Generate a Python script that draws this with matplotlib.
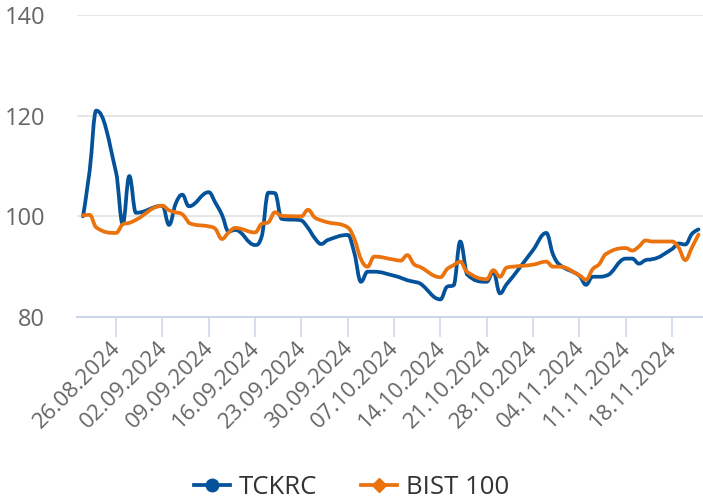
import matplotlib
matplotlib.use("Agg")
import matplotlib.pyplot as plt
from matplotlib.path import Path
from matplotlib.patches import PathPatch
from matplotlib.lines import Line2D
import matplotlib.dates as mdates
from datetime import datetime

plt.rcParams['font.family'] = ['Open Sans', 'DejaVu Sans']

# ---------------- data ----------------
dates = [
    "21.08.2024", "22.08.2024", "23.08.2024",
    "26.08.2024", "27.08.2024", "28.08.2024", "29.08.2024",
    "02.09.2024", "03.09.2024", "04.09.2024", "05.09.2024", "06.09.2024",
    "09.09.2024", "10.09.2024", "11.09.2024", "12.09.2024", "13.09.2024",
    "16.09.2024", "17.09.2024", "18.09.2024", "19.09.2024", "20.09.2024",
    "23.09.2024", "24.09.2024", "25.09.2024", "26.09.2024", "27.09.2024",
    "30.09.2024", "01.10.2024", "02.10.2024", "03.10.2024", "04.10.2024",
    "07.10.2024", "08.10.2024", "09.10.2024", "10.10.2024", "11.10.2024",
    "14.10.2024", "15.10.2024", "16.10.2024", "17.10.2024", "18.10.2024",
    "21.10.2024", "22.10.2024", "23.10.2024", "24.10.2024", "25.10.2024",
    "28.10.2024", "30.10.2024", "31.10.2024", "01.11.2024",
    "04.11.2024", "05.11.2024", "06.11.2024", "07.11.2024", "08.11.2024",
    "11.11.2024", "12.11.2024", "13.11.2024", "14.11.2024", "15.11.2024",
    "18.11.2024", "19.11.2024", "20.11.2024", "21.11.2024", "22.11.2024",
]

tckrc = [
    100.0, 109.0, 121.0,
    108.7, 98.5, 108.0, 100.7,
    102.1, 98.3, 102.5, 104.3, 102.0,
    104.8, 102.7, 100.3, 97.0, 97.3,
    94.3, 96.0, 104.7, 104.6, 99.5,
    99.2, 97.7, 95.7, 94.5, 95.3,
    96.3, 92.7, 87.0, 89.0, 89.0,
    88.2, 87.8, 87.3, 87.0, 86.6,
    83.5, 86.0, 86.3, 95.0, 88.5,
    87.0, 89.0, 84.7, 86.5, 88.1,
    93.3, 96.7, 92.5, 90.4,
    88.2, 86.4, 88.0, 88.0, 88.2,
    91.6, 91.6, 90.6, 91.3, 91.5,
    93.5, 94.6, 94.4, 96.5, 97.4,
]

bist100 = [
    100.2, 100.3, 97.8,
    96.7, 98.4, 98.7, 99.3,
    102.1, 101.2, 100.8, 100.4, 98.7,
    98.0, 97.5, 95.5, 96.8, 97.7,
    96.8, 98.5, 98.8, 100.8, 100.1,
    100.0, 101.3, 99.8, 99.2, 98.8,
    97.8, 95.5, 91.5, 90.0, 92.0,
    91.4, 91.2, 92.3, 90.5, 89.9,
    87.9, 89.5, 90.3, 91.0, 89.0,
    87.5, 89.3, 88.0, 89.8, 90.0,
    90.4, 91.0, 90.0, 90.0,
    88.3, 87.4, 89.5, 90.5, 92.5,
    93.7, 93.2, 94.0, 95.2, 95.0,
    95.0, 93.8, 91.3, 93.8, 96.4,
]

tick_labels = [
    "26.08.2024", "02.09.2024", "09.09.2024", "16.09.2024", "23.09.2024",
    "30.09.2024", "07.10.2024", "14.10.2024", "21.10.2024", "28.10.2024",
    "04.11.2024", "11.11.2024", "18.11.2024",
]

y_ticks = [80, 100, 120, 140]

series_names = ["TCKRC", "BIST 100"]
series_colors = ["#04529a", "#ea730e"]


# ---------------- helpers ----------------
def to_num(s):
    return mdates.date2num(datetime.strptime(s, "%d.%m.%Y"))


def spline_path(x, y, smoothing=1.5):
    """Smooth path through the data points (Highcharts-like spline)."""
    n = len(x)
    lc = [None] * n
    rc = [None] * n
    d = smoothing + 1.0
    for i in range(n):
        if i == 0 or i == n - 1:
            lc[i] = (x[i], y[i])
            rc[i] = (x[i], y[i])
            continue
        px, py = x[i], y[i]
        lx, ly = x[i - 1], y[i - 1]
        nx, ny = x[i + 1], y[i + 1]
        lcx = (smoothing * px + lx) / d
        lcy = (smoothing * py + ly) / d
        rcx = (smoothing * px + nx) / d
        rcy = (smoothing * py + ny) / d
        if rcx != lcx:
            corr = ((rcy - lcy) * (rcx - px)) / (rcx - lcx) + py - rcy
            lcy += corr
            rcy += corr
        if lcy > ly and lcy > py:
            lcy = max(ly, py)
            rcy = 2 * py - lcy
        elif lcy < ly and lcy < py:
            lcy = min(ly, py)
            rcy = 2 * py - lcy
        if rcy > ny and rcy > py:
            rcy = max(ny, py)
            lcy = 2 * py - rcy
        elif rcy < ny and rcy < py:
            rcy = min(ny, py)
            lcy = 2 * py - rcy
        lc[i] = (lcx, lcy)
        rc[i] = (rcx, rcy)
    verts = [(x[0], y[0])]
    codes = [Path.MOVETO]
    for i in range(1, n):
        verts += [rc[i - 1], lc[i], (x[i], y[i])]
        codes += [Path.CURVE4] * 3
    return Path(verts, codes)


# ---------------- figure ----------------
W, H = 703, 499
fig = plt.figure(figsize=(W / 100, H / 100), dpi=100)
left, right, top, bottom = 77, 703, 15, 317
ax = fig.add_axes([left / W, 1 - bottom / H, (right - left) / W, (bottom - top) / H])

xs = [to_num(s) for s in dates]
px_per_day = 46.33 / 7.0
x0 = xs[0] - (83.0 - left) / px_per_day
x1 = xs[-1] + (right - 698.5) / px_per_day
ax.set_xlim(x0, x1)
ax.set_ylim(80, 140)

for vals, col in zip([tckrc, bist100], series_colors):
    p = spline_path(xs, vals)
    ax.add_patch(PathPatch(p, facecolor="none", edgecolor=col, lw=2.7,
                           capstyle="round", joinstyle="round", zorder=3))

# grid / axes styling
ax.set_yticks(y_ticks)
ax.set_yticklabels([str(v) for v in y_ticks])
ax.yaxis.grid(True, color="#e6e6e6", lw=1.4, zorder=0)
ax.set_axisbelow(True)
for sp in ["left", "right", "top"]:
    ax.spines[sp].set_visible(False)
ax.spines["bottom"].set_color("#ccd6eb")
ax.spines["bottom"].set_linewidth(1.5)
ax.tick_params(axis="y", length=0, labelsize=17, labelcolor="#666666", pad=23)

ax.set_xticks([to_num(s) for s in tick_labels])
ax.set_xticklabels(tick_labels)
ax.tick_params(axis="x", direction="out", length=14.5, width=1.1, color="#ccd6eb",
               labelsize=16, labelcolor="#666666", pad=4)
for lab in ax.get_xticklabels():
    lab.set_rotation(45)
    lab.set_ha("right")
    lab.set_va("center_baseline")
    lab.set_rotation_mode("anchor")

# legend
handles = [
    Line2D([], [], color=series_colors[0], lw=2.7, marker="o", markersize=9),
    Line2D([], [], color=series_colors[1], lw=2.7, marker="D", markersize=7),
]
fig.legend(handles, series_names, loc="center", bbox_to_anchor=(0.5, 1 - 487 / H),
           ncol=2, frameon=False, fontsize=18.5, labelcolor="#333333",
           handlelength=1.4, handletextpad=0.35, columnspacing=1.7)

fig.savefig("out.png", dpi=100)
